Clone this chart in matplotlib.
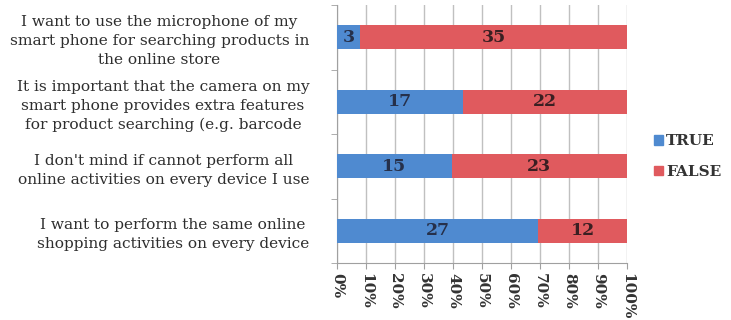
import numpy as np
import matplotlib.pyplot as plt
from matplotlib.patches import Patch

# survey statements, top to bottom as shown
statements = [
    "I want to use the microphone of my\nsmart phone for searching products in\nthe online store",
    "It is important that the camera on my\nsmart phone provides extra features\nfor product searching (e.g. barcode",
    "I don't mind if cannot perform all\nonline activities on every device I use",
    "I want to perform the same online\nshopping activities on every device",
]
true_counts = [3, 17, 15, 27]
false_counts = [35, 22, 23, 12]
x_ticks = [0, 10, 20, 30, 40, 50, 60, 70, 80, 90, 100]
x_tick_labels = ["0%", "10%", "20%", "30%", "40%", "50%", "60%", "70%", "80%", "90%", "100%"]

blue = "#4f8ad0"
red = "#e05a5e"
serif = "DejaVu Serif"

t = np.array(true_counts, dtype=float)
f = np.array(false_counts, dtype=float)
tot = t + f
t_pct = t / tot * 100
f_pct = f / tot * 100

# reverse so first statement is on top
ypos = np.arange(len(statements))[::-1]

fig = plt.figure(figsize=(7.31, 3.2), dpi=100)
ax = fig.add_axes([0.461, 0.178, 0.397, 0.806])

ax.barh(ypos, t_pct, height=0.37, color=blue, zorder=3)
ax.barh(ypos, f_pct, left=t_pct, height=0.37, color=red, zorder=3)

for y, tp, fp, tc, fc in zip(ypos, t_pct, f_pct, true_counts, false_counts):
    ax.text(tp / 2, y, str(tc), ha="center", va="center", fontsize=12.5,
            family=serif, fontweight="bold", color="#26304a", zorder=4)
    ax.text(tp + fp / 2, y, str(fc), ha="center", va="center", fontsize=12.5,
            family=serif, fontweight="bold", color="#3a1f22", zorder=4)

ax.set_xlim(0, 100)
ax.set_ylim(-0.5, 3.5)
ax.set_xticks(x_ticks)
ax.set_xticklabels(x_tick_labels, rotation=-90, fontsize=11, family=serif,
                   color="#333333", fontweight="bold")
ax.set_yticks(ypos)
ax.set_yticklabels(statements, fontsize=11.1, family=serif, color="#2e2e2e",
                   multialignment="center", linespacing=1.45)
ax.set_yticks(np.arange(-0.5, 4.0, 1.0), minor=True)
ax.tick_params(axis="y", which="major", length=0, pad=20)
ax.tick_params(axis="y", which="minor", length=4, color="#a0a0a0")
ax.tick_params(axis="x", length=4, color="#a0a0a0", pad=3)

ax.grid(axis="x", color="#c0c0c0", linewidth=1, zorder=0)
for s in ["top", "right"]:
    ax.spines[s].set_visible(False)
for s in ["left", "bottom"]:
    ax.spines[s].set_color("#a0a0a0")

handles = [Patch(color=blue, label="TRUE"), Patch(color=red, label="FALSE")]
fig.legend(handles=handles, loc="center left", bbox_to_anchor=(0.876, 0.51),
           frameon=False, handlelength=0.55, handleheight=0.55, handletextpad=0.25,
           labelspacing=1.1, prop={"family": serif, "size": 11, "weight": "bold"},
           labelcolor="#333333")

fig.savefig("out.png", dpi=100)
